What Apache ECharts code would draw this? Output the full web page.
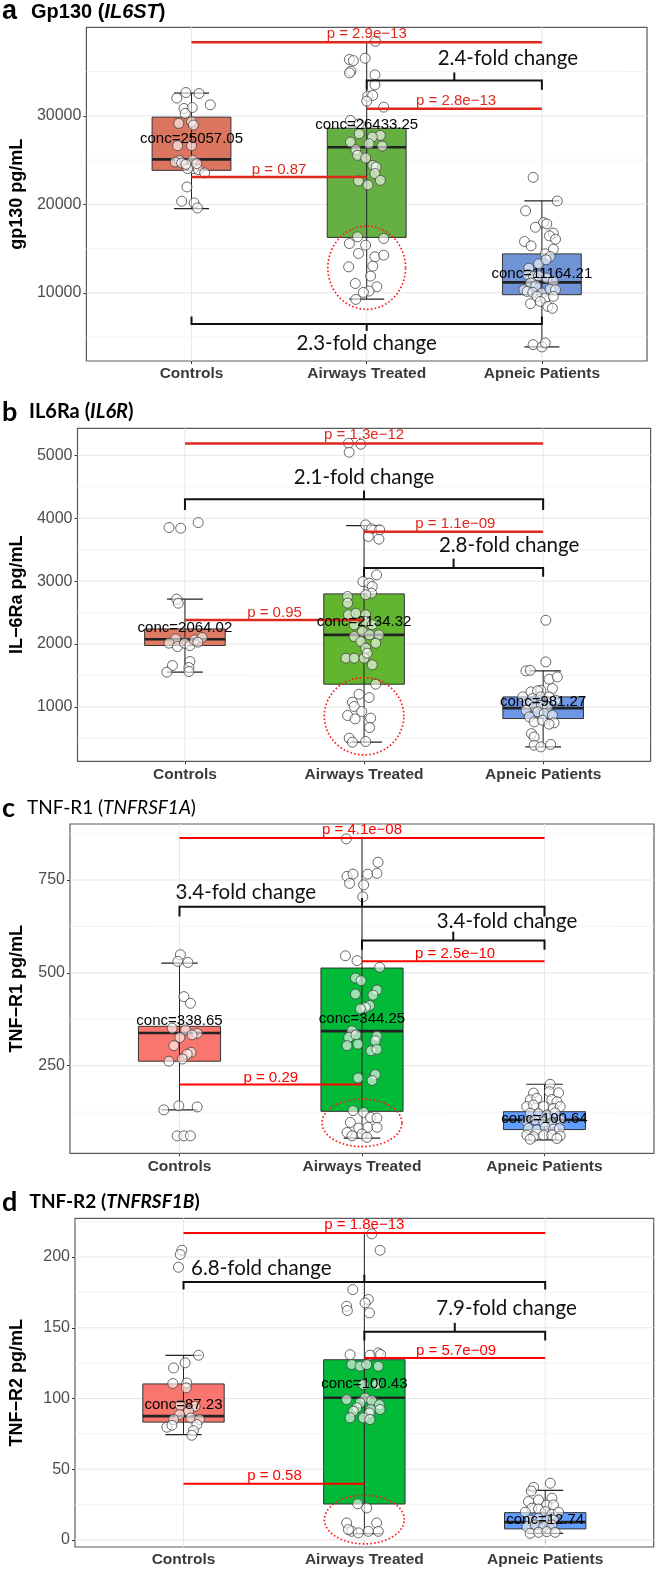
<!DOCTYPE html>
<html>
<head>
<meta charset="utf-8">
<script src="https://cdn.jsdelivr.net/npm/echarts@6/dist/echarts.min.js"></script>
<style>html,body{margin:0;padding:0;background:#fff}#c{width:657px;height:1570px}</style>
</head>
<body>
<div id="c"></div>
<script>
const CATS = ['Controls', 'Airways Treated', 'Apneic Patients'];

// ---------- Panel a : Gp130 ----------
const A_ticks = [10000, 20000, 30000];
const A_minor = [5000, 15000, 25000, 35000];
const A_controls = [[-0.032,32630],[0.043,32520],[-0.084,32000],[0.107,31240],[-0.043,30830],[0.004,30940],[-0.036,30270],[-0.073,29140],[0,29330],[0.011,28950],[-0.079,26620],[0,26620],[-0.069,24970],[-0.093,24780],[-0.056,24670],[0.006,24970],[0.011,24030],[-0.022,24030],[0.039,23920],[0.075,23540],[-0.026,21960],[-0.056,20350],[0.015,20160],[0.034,19590],[-0.032,24520],[0.03,24600]];
const A_airways = [[0.050,38420],[-0.099,36360],[-0.076,36240],[-0.009,36500],[-0.090,35040],[-0.098,34850],[0.047,34630],[0.047,33500],[0.006,32220],[0.034,32300],[0,31660],[0.097,30980],[-0.093,29480],[-0.043,29100],[0.078,27790],[0.032,27600],[-0.043,27970],[-0.093,27040],[0.013,26850],[0.088,26580],[-0.062,26170],[-0.052,25530],[-0.006,25230],[0.035,24400],[0.054,24220],[0.047,23470],[-0.047,22640],[0.078,22710],[0.007,22190],[-0.052,16330],[0.097,16140],[-0.006,15390],[-0.099,15570],[-0.047,14450],[0.047,14070],[0.097,14260],[-0.103,12940],[0.035,13020],[0.022,11890],[-0.065,11060],[0.058,10690],[0.013,10200],[-0.019,10050],[-0.062,9260]];
const A_apneic = [[-0.050,23050],[0.088,20380],[-0.093,19260],[0.009,17940],[0.028,17790],[-0.037,17410],[0.065,16740],[0.043,16440],[0.078,16060],[-0.099,15800],[-0.062,15310],[0.065,14930],[0.019,14410],[0.047,14110],[-0.019,13280],[0.024,13730],[-0.075,12790],[-0.080,12040],[-0.047,11850],[-0.019,11930],[0.028,11670],[0.065,11290],[-0.065,11100],[-0.034,10800],[-0.103,10350],[-0.084,10160],[-0.052,10050],[0,9970],[0.047,10420],[0.078,10350],[-0.028,9600],[0.019,9410],[0.065,9600],[-0.065,8770],[-0.009,9030],[0.034,8470],[0.060,8250],[-0.050,4150],[0,3890],[0.019,4340]];
// [low whisker, q1, median, q3, high whisker]
const A_box = [[19520,23840,25080,29850,32560],[9300,16260,26450,28600,38300],[3890,9790,11180,14400,20390]];
const A_red = [[1,3,38300],[2,3,30790],[1,2,23090]];
const A_p = [[2,39290,'p = 2.9e\u221213'],[2.51,31650,'p = 2.8e\u221213'],[1.5,23916,'p = 0.87']];
const A_brackets = [[2,3,33980,32950,2.5,34900],[1,3,6480,7330,2,5700]];
const A_fold = [[2.806,36470,'2.4-fold change'],[2,4250,'2.3-fold change']];
const A_conc = [[1,27410,'conc=25057.05'],[2,28990,'conc=26433.25'],[3,12150,'conc=11164.21']];
const A_ellipse = [2, 12830, 0.222, 4700];

// ---------- Panel b : IL6Ra ----------
const B_ticks = [1000, 2000, 3000, 4000, 5000];
const B_minor = [500, 1500, 2500, 3500, 4500];
const B_controls = [[-0.089,3852],[-0.024,3841],[0.074,3931],[-0.046,2713],[-0.037,2649],[-0.052,2082],[-0.089,2013],[-0.042,1960],[-0.002,2013],[0.028,1976],[0.054,2066],[0.096,2103],[0.072,2029],[0.028,1722],[0.022,1626],[-0.070,1658],[-0.101,1552],[0.022,1563]];
const B_airways = [[-0.087,5193],[-0.018,5177],[-0.083,5049],[0.009,3894],[0.042,3831],[0.087,3815],[0.024,3709],[0.083,3667],[0.070,3099],[-0.006,2993],[0.028,2967],[0.046,2914],[0.042,2808],[0.009,2782],[-0.092,2755],[-0.092,2649],[-0.087,2464],[-0.046,2490],[0.009,2464],[-0.055,2305],[0.009,2358],[0.046,2305],[-0.009,2199],[0.031,2146],[0.083,2146],[-0.055,2119],[-0.018,2040],[0.009,1934],[0.065,2013],[-0.101,1775],[-0.055,1775],[0,1775],[0.046,1669],[0.018,1854],[0.065,1361],[-0.028,1202],[0.028,1149],[-0.065,1075],[-0.055,1006],[-0.013,927],[-0.092,863],[0.037,821],[-0.050,810],[0.031,672],[-0.083,503],[-0.065,439],[0.009,450]];
const B_apneic = [[0.015,2378],[0.015,1716],[-0.096,1573],[-0.072,1583],[0.033,1440],[0.079,1477],[0.052,1292],[-0.013,1265],[-0.068,1239],[-0.031,1255],[-0.114,1159],[-0.059,1133],[-0.013,1159],[0.033,1159],[0.070,1106],[-0.087,1053],[-0.050,1000],[-0.009,1027],[0.024,1000],[-0.096,947],[-0.031,921],[0.006,894],[0.052,868],[-0.077,841],[-0.050,762],[-0.004,788],[0.061,746],[0.033,725],[-0.065,576],[-0.050,523],[-0.050,391],[-0.013,364],[0.042,402]];
const B_box = [[1552,1976,2076,2240,2713],[439,1361,2146,2797,3884],[364,815,980,1159,1573]];
const B_red = [[1,3,5190],[2,3,3786],[1,2,2382]];
const B_p = [[2,5324,'p = 1.3e\u221212'],[2.51,3916,'p = 1.1e\u221209'],[1.5,2501,'p = 0.95']];
const B_brackets = [[1,3,4300,4130,2,4440],[2,3,3207,3070,2.5,3358]];
const B_fold = [[2,4647,'2.1-fold change'],[2.81,3571,'2.8-fold change']];
const B_conc = [[1,2262,'conc=2064.02'],[2,2357,'conc=2134.32'],[3,1080,'conc=981.27']];
const B_ellipse = [2, 852, 0.222, 615];

// ---------- Panel c : TNF-R1 ----------
const C_ticks = [250, 500, 750];
const C_minor = [125, 375, 625, 875];
const C_controls = [[0.005,549],[-0.009,531],[0.046,528],[0.024,436],[0.060,418],[-0.040,351],[0.033,346],[0.097,337],[0.069,333],[0.002,326],[-0.031,304],[0.064,286],[0.042,281],[0.015,268],[-0.058,262],[-0.004,142],[-0.086,131],[0.097,139],[-0.013,61],[0.024,61],[0.060,61]];
const C_airways = [[-0.086,861],[0.088,798],[-0.082,760],[-0.049,766],[0.031,766],[0.082,768],[-0.068,741],[0.009,737],[0.004,705],[-0.091,546],[-0.027,533],[0.097,515],[-0.036,486],[-0.005,479],[0.082,454],[-0.036,443],[0.060,440],[0.042,412],[0.018,407],[-0.009,403],[-0.055,344],[-0.073,326],[-0.033,333],[0.082,329],[-0.082,304],[-0.022,308],[0.073,317],[0.049,290],[0.082,294],[-0.022,217],[0.073,226],[0.055,210],[-0.049,129],[0.009,124],[0.046,111],[0.082,109],[-0.064,97],[-0.018,82],[0.031,84],[0.082,84],[-0.082,70],[0,66],[0.027,57],[-0.055,61]];
const C_apneic = [[0.031,200],[-0.060,176],[0.027,180],[0.077,177],[-0.078,158],[-0.042,162],[0.040,159],[0.068,153],[-0.097,140],[-0.060,144],[-0.005,140],[0.049,135],[0.086,140],[-0.078,122],[-0.033,120],[0.013,117],[0.058,123],[-0.097,99],[-0.051,104],[-0.005,99],[0.040,96],[0.086,104],[-0.088,81],[-0.042,77],[0.004,84],[0.049,79],[0.082,81],[-0.097,63],[-0.060,59],[-0.005,63],[0.040,63],[0.086,61],[-0.078,52],[0.068,54]];
const C_box = [[131,262,338,356,526],[55,127,343,513,862],[50,78,104,126,200]];
const C_red = [[1,3,863],[2,3,531],[1,2,199]];
const C_p = [[2,885,'p = 4.1e\u221208'],[2.51,550,'p = 2.5e\u221210'],[1.5,218,'p = 0.29']];
const C_brackets = [[1,3,678,652,2,702],[2,3,587,562,2.5,611]];
const C_fold = [[1.363,717,'3.4-fold change'],[2.795,638,'3.4-fold change']];
const C_conc = [[1,371,'conc=338.65'],[2,377,'conc=344.25'],[3,108,'conc=100.64']];
const C_ellipse = [2, 96, 0.219, 64];

// ---------- Panel d : TNF-R2 ----------
const D_ticks = [0, 50, 100, 150, 200];
const D_minor = [25, 75, 125, 175, 225];
const D_controls = [[-0.009,204.8],[-0.018,201.8],[-0.028,192.8],[0.083,130.6],[0.009,125.2],[-0.055,121.6],[-0.059,110.6],[0.018,111.0],[0.015,107.5],[-0.018,95.2],[0.064,94.5],[0.028,91.0],[-0.022,88.6],[-0.055,85.1],[-0.092,79.7],[-0.064,81.1],[0.041,86.3],[0.088,85.1],[0.074,81.6],[0.055,77.3],[0.046,74.0]];
const D_airways = [[0.041,216.4],[0.087,204.8],[-0.064,177.0],[0.022,170.0],[0.004,167.6],[-0.098,165.2],[-0.094,162.2],[0.028,160.5],[-0.079,131.0],[0.077,132.2],[0.090,131.1],[0.031,130.6],[-0.070,124.0],[-0.024,122.8],[0.013,124.0],[0.077,122.8],[-0.006,109.9],[0.068,109.9],[0.004,100.4],[0.041,98.5],[-0.024,96.9],[-0.098,99.2],[0.083,95.7],[-0.042,93.4],[0.035,92.2],[0.087,92.2],[-0.061,91.0],[0.028,89.8],[-0.006,86.3],[-0.079,86.3],[0.031,85.1],[-0.037,25.5],[0.013,22.6],[-0.098,12.0],[0.068,12.0],[-0.070,6.1],[-0.033,5.0],[0.022,6.1],[0.077,6.1],[-0.088,7.3]];
const D_apneic = [[0.028,40.1],[-0.064,37.2],[-0.077,34.6],[0.037,29.5],[-0.092,27.1],[-0.037,28.3],[0.009,24.7],[0.046,24.7],[-0.074,22.4],[-0.037,21.9],[-0.110,19.6],[0,20.0],[0.037,18.1],[0.074,19.6],[-0.083,14.1],[-0.037,15.3],[0.009,14.1],[0.046,14.1],[-0.101,9.4],[-0.055,10.6],[-0.009,9.4],[0.037,10.6],[-0.083,4.7],[-0.037,5.4],[0.009,5.9],[0.055,5.4]];
const D_box = [[74.5,83.3,87.5,110.3,130.5],[4.5,25.4,100.5,127.4,217],[4.7,7.8,12.6,19.3,35]];
const D_red = [[1,3,217],[2,3,128.7],[1,2,39.8]];
const D_p = [[2,223,'p = 1.8e\u221213'],[2.507,133.9,'p = 5.7e\u221209'],[1.503,45,'p = 0.58']];
const D_brackets = [[1,3,182.4,177,2,187.5],[2,3,147.1,141,2.5,153.5]];
const D_fold = [[1.43,191.9,'6.8-fold change'],[2.786,163.9,'7.9-fold change']];
const D_conc = [[1,95.7,'conc=87.23'],[2,110.6,'conc=100.43'],[3,14.1,'conc=12.74']];
const D_ellipse = [2, 14.4, 0.221, 17.2];

// ---------- layout / style ----------
const panels = [
  {grid:{left:75, top:27.3, width:572, height:333.7}, y:[2300,40000], yName:'gp130 pg/mL', nameGap:48,
   ticks:A_ticks, minor:A_minor, colors:['#DB7560','#66B043','#7093D6'], red:'#E0281C', redW:2.5,
   groups:[A_controls,A_airways,A_apneic], box:A_box, redLines:A_red, pText:A_p, brackets:A_brackets, fold:A_fold, conc:A_conc, ellipse:A_ellipse},
  {grid:{left:72.6, top:428.3, width:578, height:333}, y:[135,5430], yName:'IL\u22126Ra pg/mL', nameGap:47,
   ticks:B_ticks, minor:B_minor, colors:['#E07A62','#62B52E','#6C96E6'], red:'#E0281C', redW:2.5,
   groups:[B_controls,B_airways,B_apneic], box:B_box, redLines:B_red, pText:B_p, brackets:B_brackets, fold:B_fold, conc:B_conc, ellipse:B_ellipse},
  {grid:{left:69.4, top:824, width:584.6, height:329.3}, y:[14,901], yName:'TNF\u2212R1 pg/mL', nameGap:44,
   ticks:C_ticks, minor:C_minor, colors:['#F8766D','#00BA38','#619CFF'], red:'#FF0000', redW:2,
   groups:[C_controls,C_airways,C_apneic], box:C_box, redLines:C_red, pText:C_p, brackets:C_brackets, fold:C_fold, conc:C_conc, ellipse:C_ellipse},
  {grid:{left:74.7, top:1218.3, width:579, height:328.7}, y:[-5,227.4], yName:'TNF\u2212R2 pg/mL', nameGap:49,
   ticks:D_ticks, minor:D_minor, colors:['#F8766D','#00BA38','#619CFF'], red:'#FF0000', redW:2,
   groups:[D_controls,D_airways,D_apneic], box:D_box, redLines:D_red, pText:D_p, brackets:D_brackets, fold:D_fold, conc:D_conc, ellipse:D_ellipse}
];

const titles = [
  {letter:'a', y:12, x:31, font:'Liberation Sans', size:20, text:'{n|Gp130 (}{i|IL6ST}{n|)}', weight:'bold'},
  {letter:'b', y:412, x:29, font:'Lato', size:20, text:'{n|IL6Ra (}{i|IL6R}{n|)}', weight:'bold'},
  {letter:'c', y:808, x:27, font:'Lato', size:19, text:'{n|TNF-R1 (}{i|TNFRSF1A}{n|)}', weight:'normal'},
  {letter:'d', y:1202, x:29.5, font:'Lato', size:19, text:'{n|TNF-R2 (}{i|TNFRSF1B}{n|)}', weight:'bold'}
];

const grids = [], xAxes = [], yAxes = [], series = [], graphics = [];
const NUMFONT = 'Liberation Sans';

panels.forEach((p, pi) => {
  grids.push(Object.assign({show:true, borderColor:'#5b5b5b', borderWidth:1.2, backgroundColor:'transparent', containLabel:false}, p.grid));
  xAxes.push({gridIndex:pi, type:'value', min:0.4, max:3.6,
    axisLine:{show:false}, splitLine:{show:false},
    axisTick:{show:true, customValues:[1,2,3], length:3, lineStyle:{color:'#333'}},
    axisLabel:{customValues:[1,2,3], formatter:(v)=>CATS[Math.round(v)-1], margin:5, fontSize:15.5, fontWeight:'bold', fontFamily:NUMFONT, color:'#3a3a3a'}});
  yAxes.push({gridIndex:pi, type:'value', min:p.y[0], max:p.y[1],
    name:p.yName, nameLocation:'middle', nameRotate:90, nameGap:p.nameGap,
    nameTextStyle:{fontSize:18, fontWeight:'bold', fontFamily:NUMFONT, color:'#000'},
    axisLine:{show:false}, splitLine:{show:false},
    axisTick:{show:true, customValues:p.ticks, length:3, lineStyle:{color:'#333'}},
    axisLabel:{customValues:p.ticks, margin:5, fontSize:16, fontFamily:NUMFONT, color:'#4d4d4d', formatter:(v)=>String(v)}});

  const ax = {xAxisIndex:pi, yAxisIndex:pi};
  // gridlines: [x, y, kind]
  const gl = [];
  p.minor.forEach(v => gl.push([1, v, 1]));
  p.ticks.forEach(v => gl.push([1, v, 0]));
  [1,2,3].forEach(c => gl.push([c, p.y[0], 2]));
  series.push(Object.assign({type:'custom', silent:true, z:1, data:gl,
    renderItem:(params, api) => {
      const cs = params.coordSys, kind = api.value(2);
      if (kind === 2) {
        const x = api.coord([api.value(0), api.value(1)])[0];
        return {type:'line', shape:{x1:x, y1:cs.y, x2:x, y2:cs.y+cs.height}, style:{stroke:'#e8e8e8', lineWidth:1}};
      }
      const y = api.coord([api.value(0), api.value(1)])[1];
      return {type:'line', shape:{x1:cs.x, y1:y, x2:cs.x+cs.width, y2:y}, style:{stroke: kind===0 ? '#e6e6e6' : '#f1f1f1', lineWidth: kind===0 ? 1 : 0.8}};
    }}, ax));

  // boxes
  series.push(Object.assign({type:'custom', silent:true, z:2,
    data:p.box.map((b,i)=>[i+1].concat(b)),
    renderItem:(params, api) => {
      const x = api.value(0);
      const c = (v) => api.coord([x, v]);
      const pl = c(api.value(1)), q1 = c(api.value(2)), md = c(api.value(3)), q3 = c(api.value(4)), ph = c(api.value(5));
      const hw = api.size([0.225, 0])[0], cw = api.size([0.1, 0])[0];
      const X = pl[0];
      return {type:'group', children:[
        {type:'rect', shape:{x:X-hw, y:q3[1], width:2*hw, height:q1[1]-q3[1]}, style:{fill:p.colors[params.dataIndex], stroke:'#333', lineWidth:1}},
        {type:'line', shape:{x1:X, y1:pl[1], x2:X, y2:ph[1]}, style:{stroke:'#222', lineWidth:1}},
        {type:'line', shape:{x1:X-cw, y1:pl[1], x2:X+cw, y2:pl[1]}, style:{stroke:'#222', lineWidth:1.2}},
        {type:'line', shape:{x1:X-cw, y1:ph[1], x2:X+cw, y2:ph[1]}, style:{stroke:'#222', lineWidth:1.2}},
        {type:'line', shape:{x1:X-hw, y1:md[1], x2:X+hw, y2:md[1]}, style:{stroke:'#222', lineWidth:2.6}}
      ]};
    }}, ax));

  // points
  p.groups.forEach((g, gi) => {
    series.push(Object.assign({type:'scatter', silent:true, z:3, symbol:'circle', symbolSize:10,
      itemStyle:{color:'rgba(255,255,255,0.75)', borderColor:'#444', borderWidth:1},
      data:g.map(d => [gi+1+d[0], d[1]])}, ax));
  });

  // ellipse
  series.push(Object.assign({type:'custom', silent:true, z:4, data:[[p.ellipse[0], p.ellipse[1]]],
    renderItem:(params, api) => {
      const cx = p.ellipse[0], cy = p.ellipse[1], rx = p.ellipse[2], ry = p.ellipse[3];
      const pts = [];
      for (let k = 0; k <= 80; k++) {
        const t = k / 80 * Math.PI * 2;
        pts.push(api.coord([cx + rx*Math.cos(t), cy + ry*Math.sin(t)]));
      }
      return {type:'polyline', shape:{points:pts}, style:{stroke:'#ff1a1a', lineWidth:1.7, lineDash:[1.6,2.2], fill:null}};
    }}, ax));

  // red significance lines
  series.push(Object.assign({type:'custom', silent:true, z:5, data:p.redLines,
    renderItem:(params, api) => {
      const a = api.coord([api.value(0), api.value(2)]), b = api.coord([api.value(1), api.value(2)]);
      return {type:'line', shape:{x1:a[0], y1:a[1], x2:b[0], y2:b[1]}, style:{stroke:p.red, lineWidth:p.redW}};
    }}, ax));

  // brackets
  series.push(Object.assign({type:'custom', silent:true, z:5, data:p.brackets,
    renderItem:(params, api) => {
      const x1 = api.value(0), x2 = api.value(1), y = api.value(2), ye = api.value(3), xm = api.value(4), ym = api.value(5);
      const pts = [api.coord([x1, ye]), api.coord([x1, y]), api.coord([x2, y]), api.coord([x2, ye])];
      const m1 = api.coord([xm, y]), m2 = api.coord([xm, ym]);
      return {type:'group', children:[
        {type:'polyline', shape:{points:pts}, style:{stroke:'#111', lineWidth:2, fill:null}},
        {type:'line', shape:{x1:m1[0], y1:m1[1], x2:m2[0], y2:m2[1]}, style:{stroke:'#111', lineWidth:2}}
      ]};
    }}, ax));

  // texts
  const addText = (arr, font, size, color, weight) => {
    series.push(Object.assign({type:'custom', silent:true, z:6, data:arr.map(t => [t[0], t[1]]),
      renderItem:(params, api) => {
        const pt = api.coord([api.value(0), api.value(1)]);
        return {type:'text', x:pt[0], y:pt[1], style:{text:arr[params.dataIndex][2], fill:color, fontSize:size, fontFamily:font, fontWeight:weight, align:'center', verticalAlign:'middle'}};
      }}, ax));
  };
  addText(p.pText, NUMFONT, 15, p.red, 'normal');
  addText(p.conc, NUMFONT, 15, '#000', 'normal');
  addText(p.fold, 'Lato', 20.5, '#111', 'normal');
});

titles.forEach(t => {
  graphics.push({type:'text', x:2, y:t.y, style:{text:t.letter, fontSize:27, fontWeight:'bold', fontFamily:t.font, fill:'#000', verticalAlign:'middle'}});
  graphics.push({type:'text', x:t.x, y:t.y, style:{text:t.text, verticalAlign:'middle',
    rich:{n:{fontSize:t.size, fontWeight:t.weight, fontFamily:t.font, fill:'#000'},
          i:{fontSize:t.size, fontWeight:t.weight, fontStyle:'italic', fontFamily:t.font, fill:'#000'}}}});
});

const chart = echarts.init(document.getElementById('c'), null, {renderer:'canvas'});
chart.setOption({animation:false, backgroundColor:'#fff', grid:grids, xAxis:xAxes, yAxis:yAxes, series:series, graphic:graphics});
</script>
</body>
</html>
